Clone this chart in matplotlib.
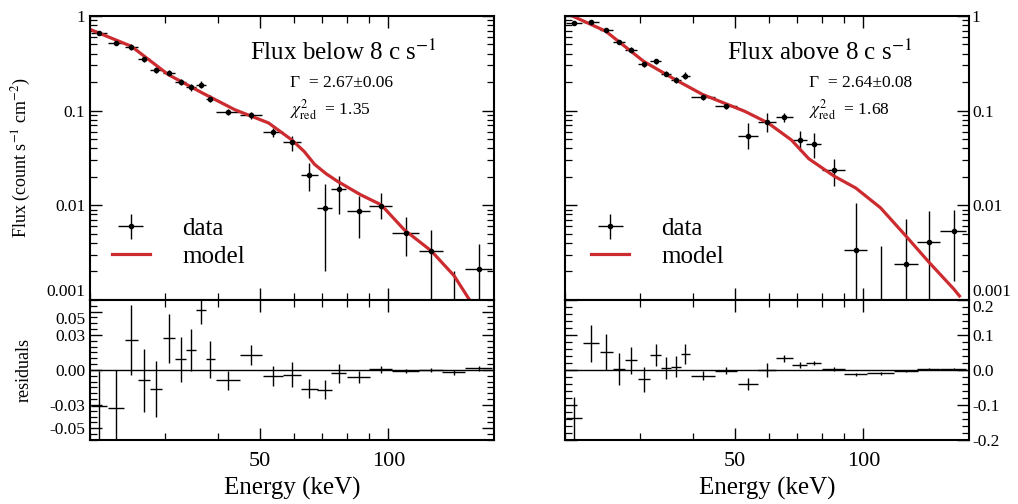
import numpy as np
import matplotlib
matplotlib.use('Agg')
import matplotlib.pyplot as plt
from matplotlib.ticker import FixedLocator, NullFormatter, MultipleLocator, LogLocator

plt.rcParams['font.family'] = ['Liberation Serif', 'DejaVu Serif']
plt.rcParams['mathtext.fontset'] = 'stix'

# energy bins (keV), shared by both spectra
energy = [21.0, 23.0, 25.0, 26.8, 28.6, 30.6, 32.6, 34.5, 36.4, 38.3, 42.2, 47.8,
          53.8, 59.5, 65.3, 71.0, 76.6, 85.4, 96.1, 110.0, 126.0, 142.5, 163.0]
energy_err = [0.9, 1.0, 0.9, 0.9, 0.9, 1.0, 1.0, 0.9, 1.0, 1.0, 2.8, 2.9,
              3.0, 2.8, 3.0, 2.8, 3.0, 5.4, 5.8, 8.0, 8.2, 8.6, 11.5]

# flux below 8 c/s
low_flux = [0.66, 0.52, 0.47, 0.35, 0.27, 0.25, 0.20, 0.176, 0.188, 0.134, 0.097, 0.089,
            0.059, 0.047, 0.021, 0.0094, 0.0147, 0.0086, 0.0099, 0.0051, 0.0033, 0.0005, 0.0021]
low_flux_lo = [0.03, 0.03, 0.03, 0.025, 0.02, 0.02, 0.015, 0.015, 0.015, 0.012, 0.008, 0.008,
               0.007, 0.010, 0.007, 0.0074, 0.0067, 0.0041, 0.0028, 0.0022, 0.0031, 0.0004, 0.0019]
low_flux_hi = [0.03, 0.03, 0.03, 0.025, 0.02, 0.02, 0.015, 0.015, 0.015, 0.012, 0.008, 0.008,
               0.007, 0.007, 0.007, 0.0072, 0.0055, 0.0038, 0.0036, 0.0024, 0.0022, 0.0015, 0.0018]
low_res = [-0.031, -0.033, 0.026, -0.009, -0.016, 0.027, 0.009, 0.017, 0.051, 0.009, -0.009, 0.013,
           -0.005, -0.004, -0.016, -0.017, -0.003, -0.006, 0.0005, -0.001, 0.0, -0.002, 0.0014]
low_res_err = [0.03, 0.033, 0.03, 0.027, 0.024, 0.021, 0.019, 0.018, 0.012, 0.016, 0.008, 0.0086,
               0.0086, 0.011, 0.008, 0.008, 0.008, 0.005, 0.003, 0.002, 0.002, 0.002, 0.002]
low_model_e = [20.0, 25.0, 30.5, 36.6, 43.7, 52.4, 59.4, 63.5, 67.2, 71.5, 76.0, 86.1, 96.2,
               109.0, 126.0, 142.6, 155.0, 175.0]
low_model = [0.72, 0.477, 0.24, 0.154, 0.102, 0.074, 0.049, 0.037, 0.027, 0.0215, 0.0179, 0.0129,
             0.0101, 0.0055, 0.0033, 0.0018, 0.001, 0.0005]

# flux above 8 c/s
high_flux = [0.84, 0.856, 0.705, 0.53, 0.44, 0.31, 0.33, 0.246, 0.212, 0.234, 0.138, 0.113,
             0.054, 0.075, 0.085, 0.049, 0.0438, 0.0238, 0.00335, 0.0005, 0.0024, 0.0041, 0.0054]
high_flux_lo = [0.04, 0.04, 0.035, 0.03, 0.025, 0.02, 0.02, 0.015, 0.015, 0.02, 0.01, 0.008,
                0.015, 0.016, 0.01, 0.012, 0.012, 0.0078, 0.0031, 0.0004, 0.0022, 0.0038, 0.0038]
high_flux_hi = [0.04, 0.04, 0.035, 0.03, 0.025, 0.02, 0.02, 0.015, 0.015, 0.02, 0.01, 0.008,
                0.020, 0.020, 0.01, 0.012, 0.014, 0.0072, 0.0072, 0.0032, 0.0047, 0.0046, 0.0036]
high_res = [-0.136, 0.076, 0.052, 0.003, 0.027, -0.027, 0.043, 0.005, 0.0095, 0.046, -0.016, -0.003,
            -0.041, 0.0, 0.033, 0.014, 0.019, 0.002, -0.012, -0.0095, -0.003, 0.002, 0.003]
high_res_err = [0.06, 0.053, 0.052, 0.045, 0.038, 0.036, 0.031, 0.031, 0.031, 0.029, 0.012, 0.01,
                0.017, 0.019, 0.011, 0.008, 0.006, 0.005, 0.004, 0.004, 0.003, 0.003, 0.003]
high_model_e = [20.3, 24.9, 30.6, 36.4, 42.0, 52.8, 59.8, 67.8, 74.5, 85.4, 96.0, 109.7,
                126.0, 142.5, 163.0, 168.0]
high_model = [1.05, 0.69, 0.33, 0.21, 0.148, 0.098, 0.074, 0.049, 0.031, 0.0203, 0.0152, 0.0094,
              0.0047, 0.0025, 0.0013, 0.0011]

flux_ticks = [1, 0.1, 0.01, 0.001]
flux_labels = ['1', '0.1', '0.01', '0.001']
low_res_ticks = [0.05, 0.03, 0.0, -0.03, -0.05]
low_res_labels = ['0.05', '0.03', '0.00', '-0.03', '-0.05']
high_res_ticks = [0.2, 0.1, 0.0, -0.1, -0.2]
high_res_labels = ['0.2', '0.1', '0.0', '-0.1', '-0.2']
e_major = [50, 100]
e_minor = [20, 30, 40, 60, 70, 80, 90]

RED = '#cc2b30'


def style(ax):
    ax.set_xscale('log')
    ax.set_xlim(20, 177)
    ax.xaxis.set_major_locator(FixedLocator(e_major))
    ax.xaxis.set_minor_locator(FixedLocator(e_minor))
    ax.xaxis.set_minor_formatter(NullFormatter())
    ax.tick_params(which='both', direction='in', top=True, bottom=True, left=True, right=True)
    ax.tick_params(which='major', length=8.5, width=1.0)
    ax.tick_params(which='minor', length=5, width=0.9)
    for s in ax.spines.values():
        s.set_linewidth(1.5)


def panel(x0, flux, lo, hi, res, res_err, me, mf, rticks, rlabels, rlim, rminor,
          title, gamma, chi, tx, gx, lx, right):
    ax = fig.add_axes([x0, 0.405, 0.397, 0.5635])
    axr = fig.add_axes([x0, 0.127, 0.397, 0.278])
    for a in (ax, axr):
        style(a)

    ax.set_yscale('log')
    ax.set_ylim(0.001, 1)
    ax.set_yticks(flux_ticks, flux_labels)
    ax.yaxis.set_minor_locator(LogLocator(base=10, subs=np.arange(2, 10)))
    ax.yaxis.set_minor_formatter(NullFormatter())
    ax.tick_params(labelbottom=False, labelsize=12.5)

    eb = ax.errorbar(energy, flux, xerr=energy_err, yerr=[lo, hi], fmt='o', ms=3,
                     color='black', ecolor='black', elinewidth=1.0, capsize=0, label='data')
    line, = ax.plot(me, mf, color=RED, lw=2.3, label='model')

    ax.text(tx, 0.843, title, transform=ax.transAxes, fontsize=18, va='baseline')
    ax.text(gx, 0.748, gamma, transform=ax.transAxes, fontsize=12.5, va='baseline')
    ax.text(gx, 0.651, chi, transform=ax.transAxes, fontsize=12.5, va='baseline')
    ax.legend(handles=[eb, line], loc='upper left', bbox_to_anchor=(lx, 0.29),
              frameon=False, fontsize=18, handlelength=1.5, handletextpad=1.3,
              labelspacing=0.22, borderpad=0, borderaxespad=0)

    axr.errorbar(energy, res, xerr=energy_err, yerr=res_err, fmt='none',
                 ecolor='black', elinewidth=1.0, capsize=0)
    axr.axhline(0, color='black', lw=1.0)
    axr.set_ylim(*rlim)
    axr.set_yticks(rticks, rlabels)
    axr.yaxis.set_minor_locator(MultipleLocator(rminor))
    axr.set_xticks(e_major, ['50', '100'])
    axr.tick_params(axis='x', labelsize=16, pad=9)
    axr.tick_params(axis='y', labelsize=12.5)
    axr.set_xlabel('Energy (keV)', fontsize=18, labelpad=4)

    if right:
        for a in (ax, axr):
            a.tick_params(axis='y', labelleft=False, labelright=True, pad=2)
    ax.get_yticklabels()[-1].set_va('bottom')
    axr.get_yticklabels()[0].set_va('top')
    return ax, axr


fig = plt.figure(figsize=(10.18, 5.04), dpi=100)

ax1, ax1r = panel(0.0884, low_flux, low_flux_lo, low_flux_hi, low_res, low_res_err,
                  low_model_e, low_model, low_res_ticks, low_res_labels, (-0.06, 0.06), 0.005,
                  r'Flux below 8 c s$^{-1}$', '\u0393  = 2.67\u00b10.06',
                  r'$\chi^2_{\rm red}$  = 1.35', 0.396, 0.495, 0.055, False)
ax1.set_ylabel(r'Flux (count s$^{-1}$ cm$^{-2}$)', fontsize=13)
ax1.yaxis.set_label_coords(-0.142, 0.5)
ax1r.set_ylabel('residuals', fontsize=13)
ax1r.yaxis.set_label_coords(-0.142, 0.5)

ax2, ax2r = panel(0.555, high_flux, high_flux_lo, high_flux_hi, high_res, high_res_err,
                  high_model_e, high_model, high_res_ticks, high_res_labels, (-0.2, 0.2), 0.02,
                  r'Flux above 8 c s$^{-1}$', '\u0393  = 2.64\u00b10.08',
                  r'$\chi^2_{\rm red}$  = 1.68', 0.402, 0.605, 0.065, True)

fig.savefig('out.png', dpi=100)
